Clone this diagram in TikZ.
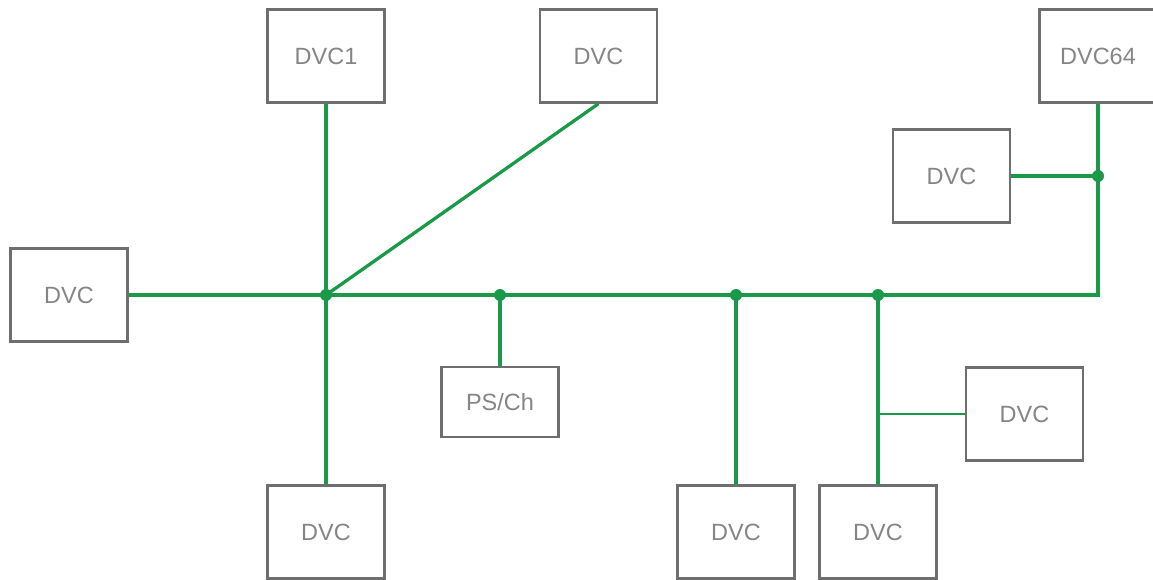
\documentclass[tikz,border=0pt]{standalone}
\usepackage{fontspec}
\setmainfont{Liberation Sans}
\usetikzlibrary{calc}
\definecolor{busgreen}{HTML}{1A9A48}
\definecolor{boxgray}{HTML}{6E6E6E}
\definecolor{txtgray}{HTML}{858585}
\tikzset{
  dvc/.style={draw=boxgray,line width=2.3pt,minimum width=117pt,minimum height=93pt,
    inner sep=0pt,text=txtgray,font=\fontsize{23.5}{28}\selectfont},
  bus/.style={draw=busgreen,line width=3.3pt},
  tap/.style={draw=busgreen,line width=2.4pt},
  dot/.style={circle,fill=busgreen,inner sep=0pt,minimum size=12pt}
}
\begin{document}
\begin{tikzpicture}[x=1pt,y=-1pt]
\useasboundingbox (0,0) rectangle (1153,580);
%top row
\path (326,56) node[dvc] (dvc1) {DVC1}
	(598.5,56) node[dvc] (dvctop) {DVC}
	(1098,56) node[dvc] (dvc64) {DVC64};
%middle boxes
\path (951.5,176) node[dvc] (dvcright) {DVC}
	(69,295) node[dvc] (dvcleft) {DVC}
	(500,402) node[dvc,minimum height=70pt] (psch) {PS/Ch}
	(1024.5,414) node[dvc] (dvcbranch) {DVC};
%bottom row
\path (326,532) node[dvc] (dvcbot1) {DVC}
	(736,532) node[dvc] (dvcbot2) {DVC}
	(878,532) node[dvc] (dvcbot3) {DVC};
%junctions
\coordinate (j1) at (326,295);
\coordinate (j2) at (500,295);
\coordinate (j3) at (736,295);
\coordinate (j4) at (878,295);
\coordinate (corner) at (1098,295);
\coordinate (j5) at (1098,176);
\coordinate (j6) at (878,414);
%bus
\draw[bus] (dvcleft.east) -- (j1) -- (j2) -- (j3) -- (j4) -- (corner) -- (dvc64.south);
\draw[bus] (dvc1.south) -- (dvcbot1.north);
\draw[bus] (j1) -- (dvctop.south);
\draw[bus] (j2) -- (psch.north);
\draw[bus] (j3) -- (dvcbot2.north);
\draw[bus] (j4) -- (dvcbot3.north);
\draw[tap] (j6) -- (dvcbranch.west);
\draw[bus] (dvcright.east) -- (j5);
\foreach \j in {j1,j2,j3,j4,j5}
	\node[dot] at (\j) {};
\end{tikzpicture}
\end{document}
